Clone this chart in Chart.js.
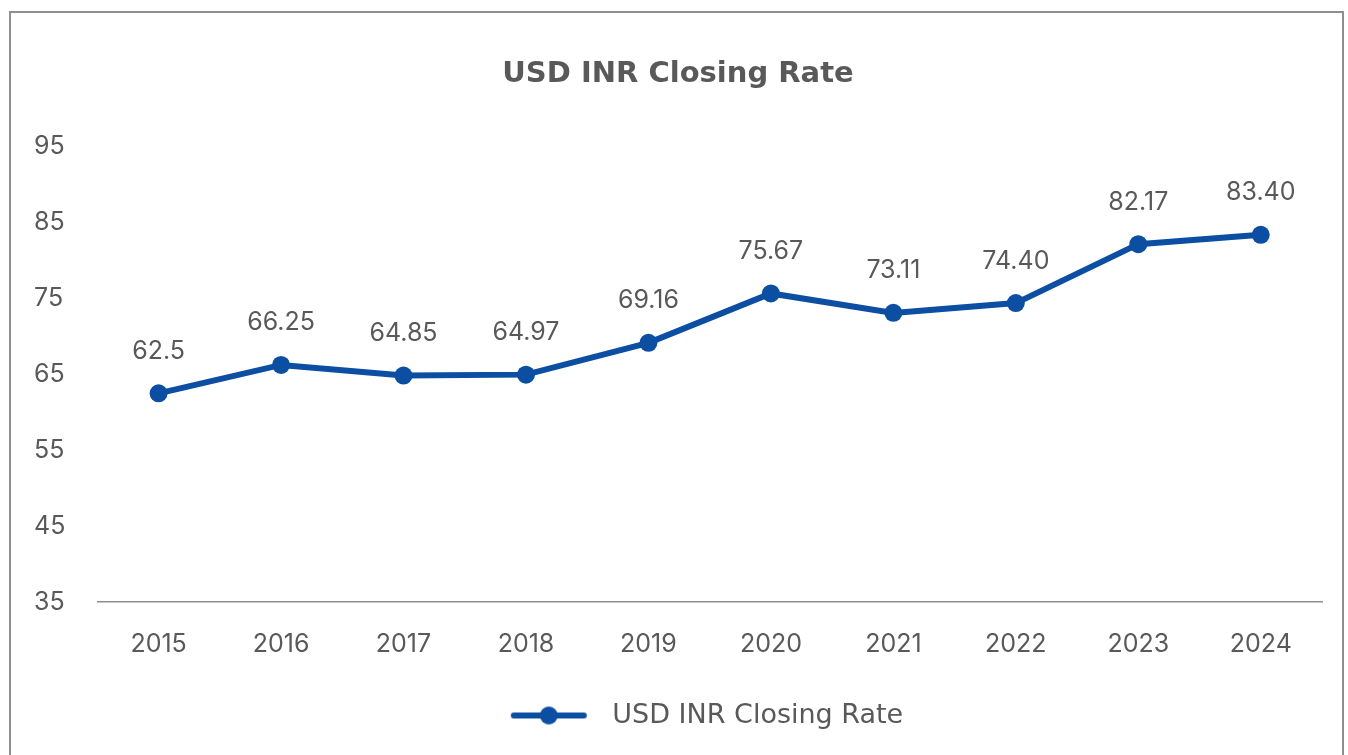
<!DOCTYPE html>
<html>
<head>
<meta charset="utf-8">
<script src="https://cdn.jsdelivr.net/npm/chart.js@4.4.1/dist/chart.umd.min.js"></script>
<style>
  html, body { margin: 0; padding: 0; background: #fff; overflow: hidden; }
  #frame { position: absolute; left: 9px; top: 11px; width: 1331px; height: 760px;
           border: 2px solid #8f8f8f; border-bottom: none; }
  #wrap { position: absolute; left: 0; top: 0; width: 1348px; height: 755px; }
</style>
</head>
<body>
<div id="frame"></div>
<div id="wrap"><canvas id="rateChart"></canvas></div>
<script>
// USD/INR yearly closing rate
const years = ['2015','2016','2017','2018','2019','2020','2021','2022','2023','2024'];
const closingRateText = ['62.5','66.25','64.85','64.97','69.16','75.67','73.11','74.40','82.17','83.40'];
const closingRates = closingRateText.map(Number);
const yTicks = [35, 45, 55, 65, 75, 85, 95];

const NUM_FONT = "Inter, 'Open Sans', sans-serif";
const TXT_FONT = "'DejaVu Sans', sans-serif";
const TEXT = '#595959';
const BLUE = '#0b4ea2';

// legend marker: thick line with a dot in the middle (left side kept blank
// so the legend item sits a bit right of centre)
function legendMarker() {
    const c = document.createElement('canvas');
    c.width = 146; c.height = 24;
    const g = c.getContext('2d');
    const x0 = 58;
    g.strokeStyle = BLUE; g.lineWidth = 6; g.lineCap = 'round';
    g.beginPath(); g.moveTo(x0 + 3, 12); g.lineTo(x0 + 73, 12); g.stroke();
    g.fillStyle = BLUE;
    g.beginPath(); g.arc(x0 + 38, 12, 9, 0, Math.PI * 2); g.fill();
    return c;
}

// value labels above each point
const pointLabels = {
    id: 'pointLabels',
    afterDatasetsDraw(chart) {
        const ctx = chart.ctx;
        const meta = chart.getDatasetMeta(0);
        ctx.save();
        ctx.font = `25px ${NUM_FONT}`;
        ctx.fillStyle = TEXT;
        ctx.textAlign = 'center';
        ctx.textBaseline = 'middle';
        meta.data.forEach((pt, i) => {
            ctx.fillText(closingRateText[i], pt.x, pt.y - 42);
        });
        ctx.restore();
    }
};

const marker = legendMarker();
new Chart(document.getElementById('rateChart'), {
    type: 'line',
    data: {
        labels: years,
        datasets: [{
            label: 'USD INR Closing Rate',
            data: closingRates,
            borderColor: BLUE,
            backgroundColor: BLUE,
            borderWidth: 6,
            pointRadius: 9,
            pointHoverRadius: 9,
            pointBackgroundColor: BLUE,
            pointBorderWidth: 0,
            tension: 0
        }]
    },
    options: {
        responsive: true,
        maintainAspectRatio: false,
        animation: false,
        layout: { padding: { top: 40, left: 34, right: 26, bottom: 16 } },
        plugins: {
            title: {
                display: true,
                text: 'USD INR Closing Rate',
                color: TEXT,
                font: { family: TXT_FONT, size: 29, weight: 'bold' },
                padding: { top: 17, bottom: 55 }
            },
            legend: {
                position: 'bottom',
                labels: {
                    color: TEXT,
                    font: { family: TXT_FONT, size: 27 },
                    usePointStyle: true,
                    pointStyleWidth: 146,
                    padding: 14,
                    generateLabels: (chart) => [{
                        text: chart.data.datasets[0].label,
                        fontColor: TEXT,
                        pointStyle: marker,
                        datasetIndex: 0,
                        lineWidth: 0
                    }]
                }
            },
            tooltip: { enabled: false }
        },
        scales: {
            x: {
                offset: true,
                grid: { display: false, drawTicks: false },
                border: { display: true, color: '#8f8f8f', width: 1.5 },
                ticks: { color: TEXT, font: { family: NUM_FONT, size: 25 }, padding: 27 },
                afterFit: (scale) => { scale.height += 2; }
            },
            y: {
                min: 35,
                max: 95,
                afterBuildTicks: (scale) => { scale.ticks = yTicks.map(v => ({ value: v })); },
                grid: { display: false, drawTicks: false },
                border: { display: false },
                ticks: { color: TEXT, font: { family: NUM_FONT, size: 25 }, padding: 16, crossAlign: 'far' }
            }
        }
    },
    plugins: [pointLabels]
});
</script>
</body>
</html>
